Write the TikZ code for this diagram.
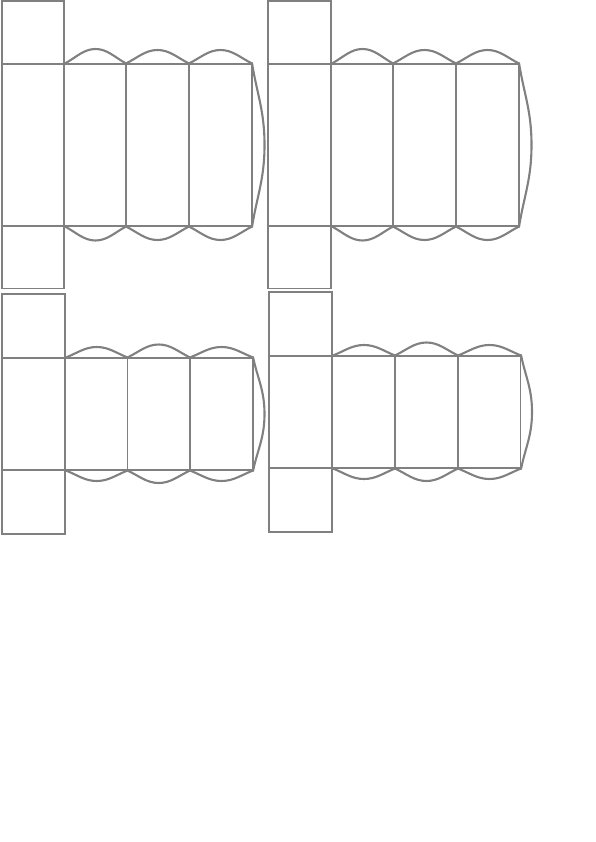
\documentclass[tikz,border=0pt]{standalone}
\definecolor{netgray}{HTML}{808080}
\tikzset{
  netline/.style={draw=netgray,line width=1.7pt,line join=miter},
  thinline/.style={draw=netgray,line width=1pt},
  lobe/.style={draw=netgray,line width=2.1pt,line cap=round}
}
% top lobe / bottom lobe: #1 x-start, #2 x-end, #3 y-base, #4 y-peak
\newcommand{\lobeh}[4]{%
  \pgfmathsetmacro{\mx}{(#1+#2)/2}%
  \pgfmathsetmacro{\ma}{#1+0.38*(\mx-#1)}%
  \pgfmathsetmacro{\mb}{#1+0.62*(\mx-#1)}%
  \pgfmathsetmacro{\mc}{#2-0.62*(#2-\mx)}%
  \pgfmathsetmacro{\md}{#2-0.38*(#2-\mx)}%
  \draw[lobe] (#1,#3) .. controls (\ma,{#3+0.45*(#4-#3)}) and (\mb,#4) .. (\mx,#4)
    .. controls (\mc,#4) and (\md,{#3+0.45*(#4-#3)}) .. (#2,#3);}
% right lobe: #1 x-base, #2 x-peak, #3 y-start, #4 y-end
\newcommand{\lobev}[4]{%
  \pgfmathsetmacro{\my}{(#3+#4)/2}%
  \draw[lobe] (#1,#3) .. controls ({#1+0.4*(#2-#1)},{#3+0.38*(\my-#3)}) and (#2,{#3+0.58*(\my-#3)}) .. (#2,\my)
    .. controls (#2,{#4-0.58*(#4-\my)}) and ({#1+0.4*(#2-#1)},{#4-0.38*(#4-\my)}) .. (#1,#4);}
\begin{document}
\begin{tikzpicture}[x=1pt,y=-1pt]
\useasboundingbox (0,0) rectangle (595,842);
% Panel A
\draw[netline] (2,1) rectangle (64,288.5);
\draw[netline] (2,64) -- (252,64) (2,226) -- (252,226);
\draw[netline] (126,64) -- (126,226) (189,64) -- (189,226) (252,64) -- (252,226);
\lobeh{65}{126}{63.5}{49}\lobeh{126}{189}{63.5}{50}\lobeh{189}{252}{63.5}{50}
\lobeh{65}{126}{226.5}{240.5}\lobeh{126}{189}{226.5}{240}\lobeh{189}{252}{226.5}{240}
\lobev{252}{264.5}{63}{227}
% Panel B
\draw[netline] (268,1) rectangle (331,288.5);
\draw[netline] (268,64) -- (519,64) (268,226) -- (519,226);
\draw[netline] (393,64) -- (393,226) (456,64) -- (456,226) (519,64) -- (519,226);
\lobeh{332}{393}{63.5}{49}\lobeh{393}{456}{63.5}{50}\lobeh{456}{519}{63.5}{50}
\lobeh{332}{393}{226.5}{240.5}\lobeh{393}{456}{226.5}{240}\lobeh{456}{519}{226.5}{240}
\lobev{519}{531.5}{63}{227}
% Panel C
\draw[netline] (2,294) rectangle (65,534);
\draw[netline] (2,358) -- (253,358) (2,470) -- (253,470);
\draw[thinline] (127.5,358) -- (127.5,470);
\draw[netline] (190,358) -- (190,470) (253,358) -- (253,470);
\lobeh{66}{127.5}{357.5}{347}\lobeh{127.5}{190}{357.5}{344.5}\lobeh{190}{253}{357.5}{347}
\lobeh{66}{127.5}{470.5}{481}\lobeh{127.5}{190}{470.5}{483}\lobeh{190}{253}{470.5}{481}
\lobev{253}{264.5}{357}{471}
% Panel D
\draw[netline] (269,292) rectangle (332,532);
\draw[netline] (269,356) -- (521,356) (269,468) -- (521,468);
\draw[netline] (395,356) -- (395,468) (458,356) -- (458,468);
\draw[thinline] (520.5,356) -- (520.5,468);
\lobeh{333}{395}{355.5}{345}\lobeh{395}{458}{355.5}{342.5}\lobeh{458}{521}{355.5}{345}
\lobeh{333}{395}{468.5}{479}\lobeh{395}{458}{468.5}{481}\lobeh{458}{521}{468.5}{479}
\lobev{521}{532}{355}{469}
\end{tikzpicture}
\end{document}
